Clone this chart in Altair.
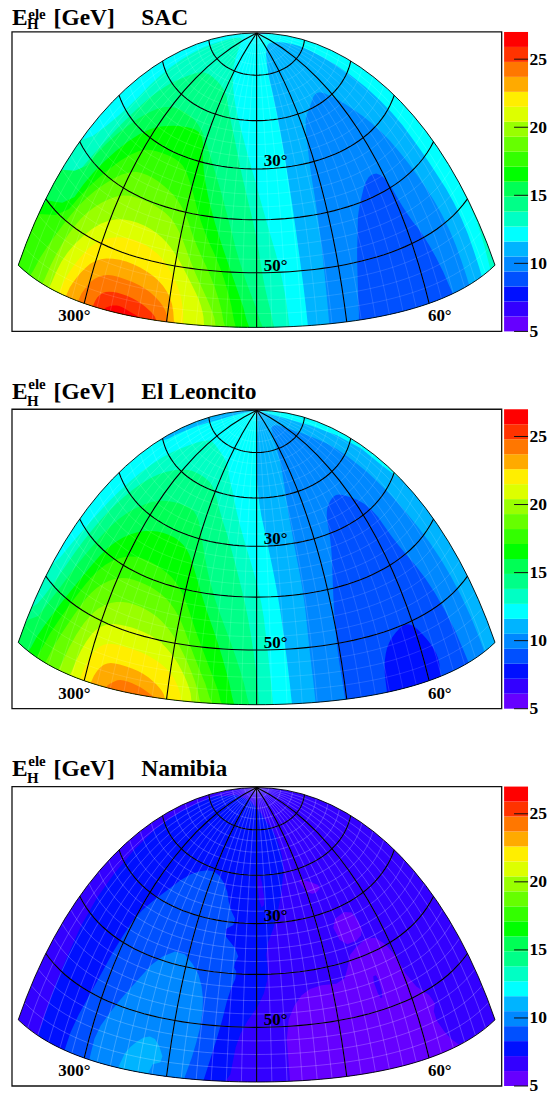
import math
import altair as alt

FONT = "Liberation Serif"
LEVELS = [5, 6.1, 7.2, 8.3, 9.4, 10.5, 11.6, 12.7, 13.8, 14.9, 16, 17.1, 18.2, 19.3, 20.4, 21.5, 22.6, 23.7, 24.8, 25.9, 27]
COLORS = ["#6600ff", "#3300ff", "#0010ff", "#0050ff", "#0088ff", "#00b4ff", "#00ffff", "#00ffc4", "#00ff88", "#00ff55",
          "#00ff00", "#33ff00", "#66ff00", "#99ff00", "#ddff00", "#ffee00", "#ffaa00", "#ff7700", "#ff3300", "#ff0000"]
TICKS = [5, 10, 15, 20, 25]
MERIDIANS = [-60, -30, 0, 30, 60]
PARALLELS = [10, 20, 30, 40, 50]
CELL_AZ = [a * 5 - 90 for a in range(37)]
CELL_ZEN = [z * 2.5 for z in range(25)]
SKY = [(-400, -300), (400, -300), (400, 400), (-400, 400)]

# Contour regions, painted in order: (colour band, [(azimuth from north, zenith), ...])
SAC = [
    (6, SKY),
    (7, [(-130, 42), (-90, 42), (-80, 30), (-82, 20), (-83, 10), (-80, 3), (-50, 4), (-30, 10), (-12, 20), (-2, 30), (4, 40), (9, 50), (11, 60), (11, 70), (-130, 90)]),
    (7, [(87.5, 46), (120, 30), (120, 90), (87.5, 90)]),
    (8, [(-130, 45), (-84, 46), (-80, 38), (-77, 30), (-74, 22), (-68, 17), (-58, 13), (-30, 14), (-20, 19), (-12, 25), (-4.5, 35), (0, 43), (2.5, 52), (6, 60), (6, 70), (-130, 90)]),
    (9, [(-130, 49), (-82, 45), (-78, 35), (-68, 25), (-55, 22), (-35, 23), (-22, 30), (-13, 38), (-5, 50), (2.5, 60), (2.5, 70), (-130, 90)]),
    (10, [(-130, 53), (-80, 50), (-76, 40), (-65, 29), (-50, 25), (-33, 24), (-28, 30), (-18, 40), (-9, 50), (-2, 60), (-2, 70), (-130, 90)]),
    (11, [(-130, 57), (-81, 52), (-74, 42), (-63, 33), (-52, 31), (-38, 31), (-30, 35), (-22, 42), (-12, 50), (-6.5, 60), (-6.5, 70), (-130, 90)]),
    (12, [(-84, 70), (-84, 60), (-79, 52), (-73, 44), (-62, 37), (-51, 35.6), (-38, 37), (-30, 40), (-24, 45), (-15, 52), (-10, 60), (-10, 70)]),
    (13, [(-78, 70), (-78, 60), (-75, 52), (-70, 46), (-60, 41), (-49, 40), (-37, 41), (-30, 44), (-23, 50), (-16, 56), (-13, 60), (-13, 70)]),
    (14, [(-75, 70), (-75, 60), (-72, 53), (-62, 46), (-50, 44), (-38, 45), (-30, 48), (-24, 52), (-19, 56), (-17, 60), (-17, 70)]),
    (15, [(-71, 70), (-71, 60), (-68, 55), (-62, 49.5), (-50, 47), (-38, 48), (-31, 51), (-26, 55), (-24, 60), (-24, 70)]),
    (16, [(-68, 70), (-68, 60), (-65, 56), (-60, 52.5), (-50, 51), (-38, 52), (-30, 55), (-27, 60), (-27, 70)]),
    (17, [(-63, 70), (-63, 60), (-60, 56.5), (-57, 55), (-52, 54), (-40, 54.5), (-32, 57), (-29, 60), (-29, 70)]),
    (18, [(-57, 70), (-57, 60), (-55, 57.5), (-50, 56.6), (-42, 57), (-36, 58.5), (-33, 60), (-33, 70)]),
    (19, [(-53, 70), (-53, 60), (-50, 59), (-47, 58.7), (-42, 59.5), (-39, 60), (-39, 70)]),
    (5, [(17, 70), (17, 60), (15.5, 40), (15, 20), (15, 5), (50, 3), (78, 6), (80, 15), (82, 30), (82, 40), (84, 50), (83, 60), (83, 70)]),
    (4, [(24, 70), (24, 60), (24.5, 50), (25.5, 40), (27, 30), (32, 22), (38, 20), (52, 17), (62, 22), (70, 30), (74, 40), (77, 50), (77, 60), (77, 70)]),
    (3, [(34, 70), (34, 60), (37, 50), (40, 45), (43, 41), (52, 36), (60, 37), (62, 45), (66, 50), (70, 60), (70, 70)]),
    (1, [(70, -9), (120, -9), (120, 4), (80, 2)]),
]

LEONCITO = [
    (6, SKY),
    (5, [(-130, -30), (-70, -30), (-78, 4), (-86, 14), (-88, 22), (-130, 30)]),
    (7, [(-130, 50), (-90, 50), (-85, 40), (-82, 30), (-78, 20), (-68, 13), (-58, 11), (-30, 13), (-22, 17), (-16, 20), (-5, 30), (2, 40), (4, 50), (5.5, 60), (5.5, 70), (-130, 90)]),
    (8, [(-130, 56), (-90, 56), (-85, 50), (-82, 40), (-79, 32), (-73, 24), (-60, 19), (-45, 18), (-32, 19), (-22, 24), (-13, 30), (-5, 40), (-1, 50), (1, 60), (1, 70), (-130, 90)]),
    (9, [(-130, 60), (-88, 58), (-82, 50), (-78, 42), (-73, 33), (-62, 27), (-49, 25), (-36, 25), (-28, 30), (-18, 40), (-8, 50), (-2, 60), (-2, 70), (-130, 90)]),
    (10, [(-85, 70), (-85, 60), (-80, 53), (-75, 46), (-70, 38), (-60, 33), (-47, 31), (-35, 32), (-28, 36), (-21, 42), (-13, 50), (-7, 60), (-7, 70)]),
    (11, [(-81, 70), (-81, 60), (-74, 49), (-69, 42), (-60, 38), (-50, 37), (-38, 38), (-30, 41), (-22, 48), (-16, 54), (-11, 60), (-11, 70)]),
    (12, [(-77, 70), (-77, 60), (-72, 52), (-68, 46), (-60, 42), (-49, 41), (-38, 42), (-30, 45), (-23, 51), (-14, 60), (-14, 70)]),
    (13, [(-71, 70), (-71, 60), (-66, 50), (-58, 46), (-48, 45), (-38, 46), (-30, 49), (-23, 54), (-18, 60), (-18, 70)]),
    (14, [(-66, 70), (-66, 60), (-63, 53), (-58, 50), (-49, 49), (-38, 49.5), (-30, 52), (-24, 56), (-21, 60), (-21, 70)]),
    (15, [(-62, 70), (-62, 60), (-60, 55.5), (-56, 53), (-48, 52.5), (-38, 53), (-30, 55), (-26, 58), (-25, 60), (-25, 70)]),
    (16, [(-58, 70), (-58, 60), (-55, 56.5), (-50, 55.6), (-40, 56), (-33, 58), (-30, 60), (-30, 70)]),
    (17, [(-52, 70), (-52, 60), (-50, 59), (-47, 58), (-40, 58.5), (-36, 59.5), (-34, 60), (-34, 70)]),
    (5, [(11.7, 70), (11.7, 60), (10.5, 50), (9, 40), (6, 30), (1, 20), (-2, 5), (30, -9), (60, -9), (88, 15), (88, 35), (130, 45), (130, 90)]),
    (4, [(19.5, 70), (19.5, 60), (19, 50), (19.6, 40), (19, 30), (20, 20), (28, 8), (38, 4.5), (60, 6), (75, 15), (78, 24), (80, 34), (83, 46), (84.5, 60), (84.5, 70)]),
    (3, [(29.5, 70), (29.5, 60), (29, 50), (32, 40), (38, 31), (41, 26), (48, 24), (55, 24), (66, 29), (67, 37), (73, 46), (77, 60), (77, 70)]),
    (2, [(44, 70), (44, 60), (45, 55), (49, 51.5), (58, 49.5), (63, 53), (66, 57), (64.5, 60), (64.5, 70)]),
    (1, [(70, -9), (120, -9), (120, 4), (80, 2)]),
]

NAMIBIA = [
    (1, SKY),
    (2, [(-85, 5), (-85, 20), (-83, 30), (-82, 40), (-80, 50), (-80, 70), (-11, 70), (-8, 55), (-5, 50), (2, 45), (5, 40), (4, 35), (9.5, 30), (14, 25), (21, 18), (22, 13), (20, 10), (5, 5), (-30, 3)]),
    (3, [(-68, 70), (-68, 60), (-67.5, 56), (-64, 48), (-62, 40.5), (-60, 34.5), (-55, 30), (-46, 23.5), (-37, 21), (-28, 20.5), (-19, 23), (-15, 27), (-10, 30), (-17, 32), (-7.5, 36), (-10, 38.5), (-8, 40), (-11, 44), (-13, 50), (-17.5, 60), (-17.5, 70)]),
    (4, [(-58, 70), (-58, 60), (-58, 55.4), (-54, 50.5), (-49, 45.6), (-43, 40), (-34, 37), (-25, 40), (-21, 44), (-20, 49), (-21.6, 55), (-24, 60), (-24, 70)]),
    (5, [(-49, 70), (-46.5, 58), (-43.5, 55.5), (-39, 53.5), (-35, 54), (-31.5, 57.5), (-36.6, 58.5), (-36, 70)]),
    (0, [(11, 70), (11, 60), (10.5, 50), (15.6, 45), (23, 43), (35, 43.5), (39, 40.5), (41.5, 38.5), (53, 37), (59.5, 41), (61.5, 47.5), (69, 52), (66, 54), (69, 58), (72.6, 60), (72.6, 70)]),
    (0, [(37, 32), (48.5, 31), (51, 35), (48, 37), (39, 37)]),
    (0, [(27, 22), (33, 23), (40, 25), (34, 26), (30, 25)]),
    (1, [(47, 44), (49.5, 44), (49, 48), (47.5, 48)]),
    (1, [(0, 20), (3, 20), (5, 26), (2, 27)]),
]

# name, regions, title shift, superscript shift, subscript shift, cell line opacity
PANELS = [("SAC", SAC, 3.3, 7.7, 1, 0.22), ("El Leoncito", LEONCITO, 0, 0, 0, 0.22), ("Namibia", NAMIBIA, 0, 0, 0, 0.38)]
SMOOTHING = {"SAC": 2, "El Leoncito": 2, "Namibia": 1}

# Hammer projection of the half sky (azimuth doubled to longitude), stretched to the ROOT pad
RX, RY = 97.5, 329.0
W, H = 517, 300
FRAME_W = 490.6


def hammer(az, zen):
    lon, lat = math.radians(2 * az), math.radians(90 - zen)
    d = math.sqrt(1 + math.cos(lat) * math.cos(lon / 2))
    return [round(RX * 2 * math.sqrt(2) * math.cos(lat) * math.sin(lon / 2) / d, 2),
            round(RY * math.sqrt(2) * math.sin(lat) / d, 2)]


def chaikin(pts, n):
    for _ in range(n):
        out = []
        for i, p in enumerate(pts):
            q = pts[(i + 1) % len(pts)]
            out.append((0.75 * p[0] + 0.25 * q[0], 0.75 * p[1] + 0.25 * q[1]))
            out.append((0.25 * p[0] + 0.75 * q[0], 0.25 * p[1] + 0.75 * q[1]))
        pts = out
    return pts


def clamp(p):
    return (max(-90, min(90, p[0])), max(0.01, min(60, p[1])))


def dense(pts, closed=True):
    out = []
    m = len(pts) if closed else len(pts) - 1
    for i in range(m):
        a, b = pts[i], pts[(i + 1) % len(pts)]
        steps = max(1, int(max(abs(a[0] - b[0]) / 3, abs(a[1] - b[1]) / 3)))
        for s in range(steps):
            out.append((a[0] + (b[0] - a[0]) * s / steps, a[1] + (b[1] - a[1]) * s / steps))
    if not closed:
        out.append(pts[-1])
    return out


def region(band, pts, smooth):
    ring = [hammer(*p) for p in dense([clamp(p) for p in chaikin(pts, smooth)])]
    ring.append(ring[0])
    return {"type": "Feature", "properties": {"band": band}, "geometry": {"type": "Polygon", "coordinates": [ring]}}


def line(pts):
    return {"type": "Feature", "properties": {}, "geometry": {"type": "LineString", "coordinates": [hammer(*p) for p in dense(pts, closed=False)]}}


GEO = dict(type="identity", reflectY=True, scale=1, translate=[245.1, 1 + math.sqrt(2) * RY])
BAND_SCALE = alt.Scale(domain=list(range(20)), range=COLORS)
cell_lines = [line([(a, 0.01), (a, 60)]) for a in CELL_AZ[1:-1]] + [line([(-90, z), (90, z)]) for z in CELL_ZEN[1:-1]]
grat_lines = [line([(a, 0.01), (a, 60)]) for a in MERIDIANS] + [line([(-90, z), (90, z)]) for z in PARALLELS]
outline = [line([(-90, 0.01), (-90, 60), (90, 60), (90, 0.01)])]
Y_AXIS = alt.Axis(orient="right", title=None, values=TICKS, ticks=False, domain=False, grid=False,
                  labelFont=FONT, labelFontWeight="bold", labelFontSize=17.5, labelColor="black", labelPadding=1, labelOverlap=False)
Y_SCALE = alt.Scale(domain=[5, 27], nice=False, zero=False)


def label(text, x, y, size, color="black"):
    return alt.Chart(alt.Data(values=[{"t": text}])).mark_text(
        font=FONT, fontWeight="bold", fontSize=size, align="left", baseline="alphabetic", color=color
    ).encode(text="t:N", x=alt.value(x), y=alt.value(y))


def panel(name, regions, dy, dy_sup, dy_sub, cell_alpha):
    smooth = SMOOTHING[name]
    fills = alt.Chart(alt.Data(values=[region(b, p, smooth) for b, p in regions])).mark_geoshape(strokeWidth=0).encode(
        color=alt.Color("properties.band:O", scale=BAND_SCALE, legend=None)
    ).project(**GEO)
    cells = alt.Chart(alt.Data(values=cell_lines)).mark_geoshape(filled=False, stroke="white", strokeWidth=0.6, strokeOpacity=cell_alpha).project(**GEO)
    grat = alt.Chart(alt.Data(values=grat_lines)).mark_geoshape(filled=False, stroke="black", strokeWidth=1.1).project(**GEO)
    edge = alt.Chart(alt.Data(values=outline)).mark_geoshape(filled=False, stroke="black", strokeWidth=0.9).project(**GEO)
    frame = alt.Chart(alt.Data(values=[{}])).mark_rect(filled=False, stroke="#111111", strokeWidth=1.3).encode(
        x=alt.value(0), x2=alt.value(FRAME_W), y=alt.value(0), y2=alt.value(H)
    )
    bar_rows = [{"lo": LEVELS[i], "hi": LEVELS[i + 1], "band": i} for i in range(20)]
    bar = alt.Chart(alt.Data(values=bar_rows)).mark_rect().encode(
        x=alt.value(493), x2=alt.value(W),
        y=alt.Y("lo:Q", scale=Y_SCALE, axis=Y_AXIS),
        y2="hi:Q",
        color=alt.Color("band:O", scale=BAND_SCALE, legend=None),
    )
    ticks = alt.Chart(alt.Data(values=[{"v": v} for v in TICKS])).mark_rule(color="#111111", strokeWidth=1).encode(
        y=alt.Y("v:Q", scale=Y_SCALE, axis=Y_AXIS), x=alt.value(503), x2=alt.value(W)
    )
    texts = [
        label("30°", 252.3, 134.5, 17), label("50°", 252.3, 239, 17), label("300°", 46.3, 290, 17), label("60°", 416.7, 290, 17),
        label("E", 0, -10.3 + dy, 23.5), label("ele", 16.3, -20.7 + dy_sup, 15), label("H", 15, -3.7 + dy_sub, 15),
        label("[GeV]", 41.7, -10.3 + dy, 23.5), label(name, 129.5, -10.3 + dy, 23.5),
    ]
    return alt.layer(fills, cells, grat, edge, frame, bar, ticks, *texts).resolve_scale(color="shared").properties(width=W, height=H)


chart = alt.vconcat(*[panel(*p) for p in PANELS], spacing=78, bounds="flush").properties(
    padding={"left": 3, "top": -3, "right": 0, "bottom": 0}
).configure_view(stroke=None)

chart.save("out.html", embed_options={"renderer": "svg", "actions": False})
